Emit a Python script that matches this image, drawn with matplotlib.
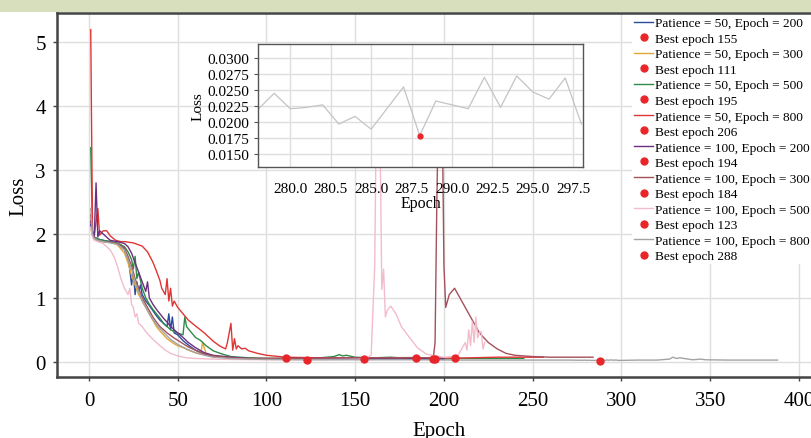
import matplotlib
matplotlib.use("Agg")
import matplotlib.pyplot as plt
from matplotlib.patches import Rectangle

plt.rcParams['font.family'] = ['Liberation Serif', 'DejaVu Serif']
plt.rcParams['mathtext.fontset'] = 'stix'

# ---------------- data ----------------
labels = ["Patience = 50, Epoch = 200", "Patience = 50, Epoch = 300",
          "Patience = 50, Epoch = 500", "Patience = 50, Epoch = 800",
          "Patience = 100, Epoch = 200", "Patience = 100, Epoch = 300",
          "Patience = 100, Epoch = 500", "Patience = 100, Epoch = 800"]
colors = ["#2a4a9c", "#e0a83a", "#2e8b46", "#e03535",
          "#6b2f80", "#a5505a", "#f2bccb", "#a3a3a3"]
best_epochs = [155, 111, 195, 206, 194, 184, 123, 288]
best_losses = [0.035, 0.05, 0.04, 0.055, 0.04, 0.065, 0.03, 0.018]

blue_ep = [1,2,3,5,8,12,16,20,22,23,24,25,26,27,28,29,30,32,34,36,38,40,42,44,45,46,47,48,50,53,56,60,65,70,80,90,100,120,140,155,170,185,200]
blue_loss = [2.15,2.0,1.95,1.92,1.9,1.88,1.85,1.75,1.6,1.45,1.2,1.4,1.05,1.25,1.1,1.2,1.05,0.95,0.88,0.8,0.72,0.65,0.6,0.55,0.75,0.5,0.7,0.45,0.42,0.33,0.26,0.18,0.12,0.08,0.06,0.05,0.045,0.04,0.04,0.035,0.04,0.04,0.045]

orange_ep = [1,2,3,5,8,12,16,20,22,24,26,28,30,32,34,36,38,40,42,44,46,48,50,53,56,60,63,64,66,70,75,80,90,100,111,125,140,161]
orange_loss = [2.1,1.98,1.93,1.9,1.88,1.87,1.83,1.7,1.55,1.35,1.2,1.05,0.95,0.85,0.75,0.65,0.55,0.48,0.42,0.36,0.32,0.28,0.25,0.22,0.18,0.14,0.12,0.3,0.13,0.09,0.07,0.06,0.05,0.05,0.05,0.05,0.055,0.06]

green_ep = [1,2,3,5,8,12,16,20,22,24,25,26,27,28,30,32,34,36,38,40,42,44,46,48,50,52,53,54,55,57,60,63,66,70,75,80,90,100,110,120,130,138,141,143,145,150,160,170,180,195,210,230,245]
green_loss = [3.35,2.05,1.95,1.92,1.9,1.88,1.86,1.8,1.72,1.6,1.45,1.65,1.3,1.4,1.15,1.0,0.9,0.82,0.75,0.68,0.6,0.55,0.5,0.47,0.45,0.43,0.42,0.7,0.55,0.48,0.38,0.33,0.25,0.17,0.12,0.08,0.06,0.05,0.05,0.05,0.06,0.08,0.11,0.09,0.1,0.07,0.06,0.07,0.05,0.04,0.05,0.05,0.05]

red_ep = [1,2,3,5,6,8,10,12,15,18,20,25,30,33,36,38,40,41,43,44,45,46,47,48,50,53,56,60,65,70,74,77,78,80,81,82,83,84,86,88,90,95,100,111,130,160,190,206,230,256]
red_loss = [5.2,2.05,1.98,2.4,1.98,2.05,2.05,1.97,1.9,1.88,1.88,1.86,1.81,1.72,1.56,1.42,1.27,1.15,1.05,1.3,0.95,1.15,0.87,0.95,0.85,0.75,0.65,0.56,0.45,0.32,0.24,0.2,0.3,0.6,0.18,0.36,0.2,0.25,0.2,0.21,0.17,0.13,0.1,0.07,0.06,0.06,0.06,0.055,0.07,0.07]

purple_ep = [1,2,3,4,5,6,8,10,12,16,20,22,24,26,28,30,32,33,34,36,38,40,42,44,46,48,50,53,56,60,65,70,80,90,100,120,140,160,175,194,200]
purple_loss = [2.2,2.0,1.95,2.8,1.95,2.05,2.0,1.95,1.9,1.88,1.85,1.8,1.7,1.55,1.4,1.25,1.1,1.25,1.0,0.9,0.82,0.75,0.68,0.62,0.55,0.5,0.45,0.38,0.3,0.22,0.14,0.1,0.07,0.05,0.05,0.05,0.05,0.05,0.06,0.04,0.045]

brown_ep = [1,2,3,5,8,12,16,20,22,24,26,28,30,32,34,36,38,40,44,48,52,56,60,65,70,80,90,100,120,140,160,184,194,195,196,197,199,200,201,203,206,210,215,220,225,230,235,240,250,260,284]
brown_loss = [2.3,2.0,1.93,1.9,1.88,1.87,1.85,1.78,1.65,1.5,1.3,1.15,1.0,0.9,0.8,0.7,0.62,0.55,0.45,0.37,0.3,0.23,0.18,0.12,0.09,0.06,0.05,0.05,0.05,0.06,0.06,0.065,0.06,0.3,2.5,4.2,4.0,1.5,0.85,1.05,1.15,0.95,0.7,0.45,0.3,0.2,0.13,0.1,0.08,0.07,0.07]

pink_ep = [1,2,3,5,8,10,12,14,16,18,20,21,22,23,24,25,26,27,28,30,32,35,38,40,43,46,50,55,60,70,80,100,123,140,155,159,161,162,163,164,165,166,167,168,170,173,176,180,185,190,195,200,205,208,210,212,213,214,215,216,217,218,219,220,221,222,223]
pink_loss = [2.1,1.95,1.9,1.88,1.85,1.8,1.75,1.65,1.5,1.3,1.15,1.1,1.05,1.15,0.9,0.85,0.7,0.75,0.6,0.55,0.47,0.38,0.3,0.25,0.18,0.13,0.09,0.06,0.05,0.04,0.035,0.03,0.03,0.035,0.04,0.1,1.5,4.2,4.5,3.5,1.13,1.45,0.7,0.8,0.87,0.75,0.55,0.4,0.22,0.12,0.09,0.07,0.08,0.1,0.2,0.3,0.18,0.5,0.25,0.63,0.3,0.7,0.37,0.45,0.47,0.2,0.3]

gray_inset_ep = [278,279,280,281,282,283,284,285,286,287,288,289,290,291,292,293,294,295,296,297,298]
gray_inset_loss = [0.0220,0.0245,0.0221,0.0223,0.0227,0.0197,0.0209,0.0189,0.0222,0.0255,0.0179,0.0233,0.0227,0.0221,0.0270,0.0223,0.0272,0.0247,0.0236,0.0269,0.0197]

gray_ep = ([1,2,3,5,8,12,16,20,22,24,26,28,30,32,35,38,40,43,46,50,55,60,65,70,80,90,100,120,150,180,210,240,270]
           + gray_inset_ep + [310,320,327,329,331,333,340,345,347,360,375,388])
gray_loss = ([2.4,2.0,1.93,1.9,1.88,1.86,1.84,1.75,1.6,1.45,1.25,1.1,0.95,0.85,0.7,0.58,0.52,0.43,0.35,0.27,0.2,0.14,0.1,0.07,0.05,0.04,0.035,0.03,0.03,0.03,0.025,0.025,0.025]
             + gray_inset_loss + [0.025,0.025,0.04,0.07,0.05,0.06,0.03,0.04,0.03,0.025,0.025,0.025])

series_ep = [blue_ep, orange_ep, green_ep, red_ep, purple_ep, brown_ep, pink_ep, gray_ep]
series_loss = [blue_loss, orange_loss, green_loss, red_loss, purple_loss, brown_loss, pink_loss, gray_loss]

main_xticks = [0, 50, 100, 150, 200, 250, 300, 350, 400]
main_yticks = [0, 1, 2, 3, 4, 5]
inset_xticks = [280.0, 282.5, 285.0, 287.5, 290.0, 292.5, 295.0, 297.5]
inset_xticklabels = ["280.0", "280.5", "285.0", "287.5", "290.0", "292.5", "295.0", "297.5"]
inset_yticks = [0.0150, 0.0175, 0.0200, 0.0225, 0.0250, 0.0275, 0.0300]

# ---------------- figure ----------------
W, H = 812, 439
fig = plt.figure(figsize=(W / 100, H / 100), dpi=100)
fig.patches.append(Rectangle((0, 1 - 13 / H), 1, 13 / H, transform=fig.transFigure,
                             facecolor="#d8dfbd", edgecolor="none", zorder=0))

ax = fig.add_axes([57 / W, (H - 378) / H, 765 / W, 364 / H])
handles = []
for ep, ls, c, lab, be, bl in zip(series_ep, series_loss, colors, labels, best_epochs, best_losses):
    ln, = ax.plot(ep, ls, color=c, lw=1.0, label=lab, zorder=2)
    dot, = ax.plot([be], [bl], 'o', color="#e8262a", ms=5, label=f"Best epoch {be}",
                   zorder=4, linestyle='none')
    handles += [ln, dot]

ax.set_xlim(-18, 413)
ax.set_ylim(-0.24, 5.46)
ax.set_xticks(main_xticks)
ax.set_yticks(main_yticks)
ax.grid(True, color="#dedede", lw=1.0)
ax.set_axisbelow(True)
for s in ax.spines.values():
    s.set_color("#444444")
    s.set_linewidth(1.8)
ax.tick_params(axis='both', labelsize=15, length=3, width=1, color="#444444", pad=5)
ax.tick_params(axis='x', pad=7)
ax.set_xlabel("Epoch", fontsize=15, labelpad=8)
ax.set_ylabel("Loss", fontsize=15, labelpad=5)

leg = ax.legend(handles=handles, loc='upper left', bbox_to_anchor=(632 / W, 1 - 16 / H),
                bbox_transform=fig.transFigure, fontsize=9.6, frameon=True,
                facecolor="white", edgecolor="none", framealpha=1.0, fancybox=False,
                labelspacing=0.24, handlelength=1.45, handletextpad=0.1,
                borderpad=0.15, borderaxespad=0)
leg.set_zorder(5)

# ---------------- inset ----------------
ins = fig.add_axes([258 / W, (H - 168) / H, 325 / W, 123 / H])
ins.set_zorder(6)
ins.set_facecolor("white")
ins.plot(gray_inset_ep, gray_inset_loss, color="#c4c4c4", lw=0.9)
ins.plot([288], [gray_inset_loss[gray_inset_ep.index(288)]], 'o', color="#e8262a", ms=3.5)
ins.set_xlim(278, 298.1)
ins.set_ylim(0.0130, 0.0322)
ins.set_xticks(inset_xticks)
ins.set_xticklabels(inset_xticklabels)
ins.set_yticks(inset_yticks)
ins.set_yticklabels([f"{v:.4f}" for v in inset_yticks])
ins.grid(True, color="#dedede", lw=1.0)
for s in ins.spines.values():
    s.set_color("#555555")
    s.set_linewidth(1.0)
ins.tick_params(axis='both', labelsize=11, length=3, color="#555555")
ins.tick_params(axis='x', pad=11, length=0)
ins.set_xlabel("Epoch", fontsize=11.5, labelpad=0)
ins.set_ylabel("Loss", fontsize=11, labelpad=2)

fig.savefig("out.png", dpi=100)
